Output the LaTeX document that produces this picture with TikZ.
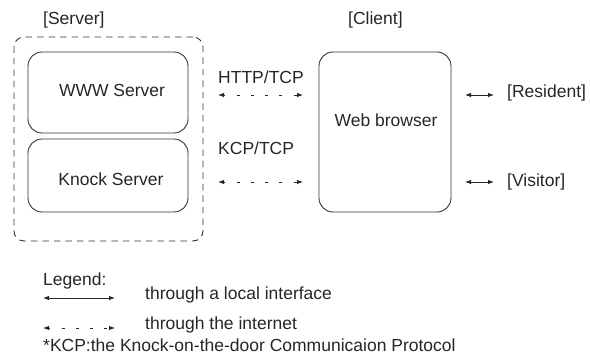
\documentclass[tikz,border=0pt]{standalone}
\usepackage{fontspec}
\setmainfont{Liberation Sans}
\usetikzlibrary{arrows.meta}
\begin{document}
\begin{tikzpicture}[x=1pt,y=-1pt,
  font=\fontsize{17.5}{20}\selectfont,
  txt/.style={inner sep=0pt, anchor=base west, text=black!85},
  ctxt/.style={inner sep=0pt, anchor=base, text=black!85},
  box/.style={draw=black!80, rounded corners=14pt, line width=0.9pt, inner sep=0pt},
  group/.style={draw=black!80, dash pattern=on 6.5pt off 5pt, rounded corners=10pt, line width=0.9pt, inner sep=0pt},
  tip/.style={{Latex[length=6pt,width=4.5pt]}-{Latex[length=6pt,width=4.5pt]}},
  local/.style={tip, line width=0.9pt, draw=black!85},
  inet/.style={tip, line width=0.9pt, draw=black!85, dash pattern=on 3pt off 11.3pt, dash phase=1.3pt},
]
\useasboundingbox (0,0) rectangle (590,363);

% group and boxes
\node[group, minimum width=189pt, minimum height=204pt] (server) at (108.5,139) {};
\node[box, minimum width=160pt, minimum height=81pt] (www) at (108,92.5) {};
\node[box, minimum width=160pt, minimum height=73pt] (knock) at (108,175.5) {};
\node[box, minimum width=132pt, minimum height=160pt] (browser) at (385,132) {};

% labels
\node[txt] (lserver) at (43,25) {[Server]};
\node[txt] (lclient) at (348,25) {[Client]};
\node[ctxt] (twww) at (112,97) {WWW Server};
\node[ctxt] (tknock) at (111,186) {Knock Server};
\node[ctxt] (tbrowser) at (386,127) {Web browser};
\node[txt] (thttp) at (218,84) {HTTP/TCP};
\node[txt] (tkcp) at (218,155) {KCP/TCP};
\node[txt] (tres) at (507,98) {[Resident]};
\node[txt] (tvis) at (507,187) {[Visitor]};

% connector endpoints
\coordinate (h1) at (218,95);
\coordinate (h2) at (303,95);
\coordinate (k1) at (218,182);
\coordinate (k2) at (303,182);
\coordinate (r1) at (465,95);
\coordinate (r2) at (494,95);
\coordinate (v1) at (465,182);
\coordinate (v2) at (494,182);
\draw[inet] (h1) -- (h2);
\draw[inet] (k1) -- (k2);
\draw[local] (r1) -- (r2);
\draw[local] (v1) -- (v2);

% legend
\node[txt] (tlegend) at (43,286) {Legend:};
\coordinate (l1) at (43,298);
\coordinate (l2) at (115,298);
\coordinate (d1) at (43,328);
\coordinate (d2) at (115,328);
\draw[local] (l1) -- (l2);
\draw[inet] (d1) -- (d2);
\node[txt] (tlocal) at (145,300) {through a local interface};
\node[txt] (tinet) at (145,330) {through the internet};
\node[txt] (tkcpnote) at (43,352) {*KCP:the Knock-on-the-door Communicaion Protocol};
\end{tikzpicture}
\end{document}
